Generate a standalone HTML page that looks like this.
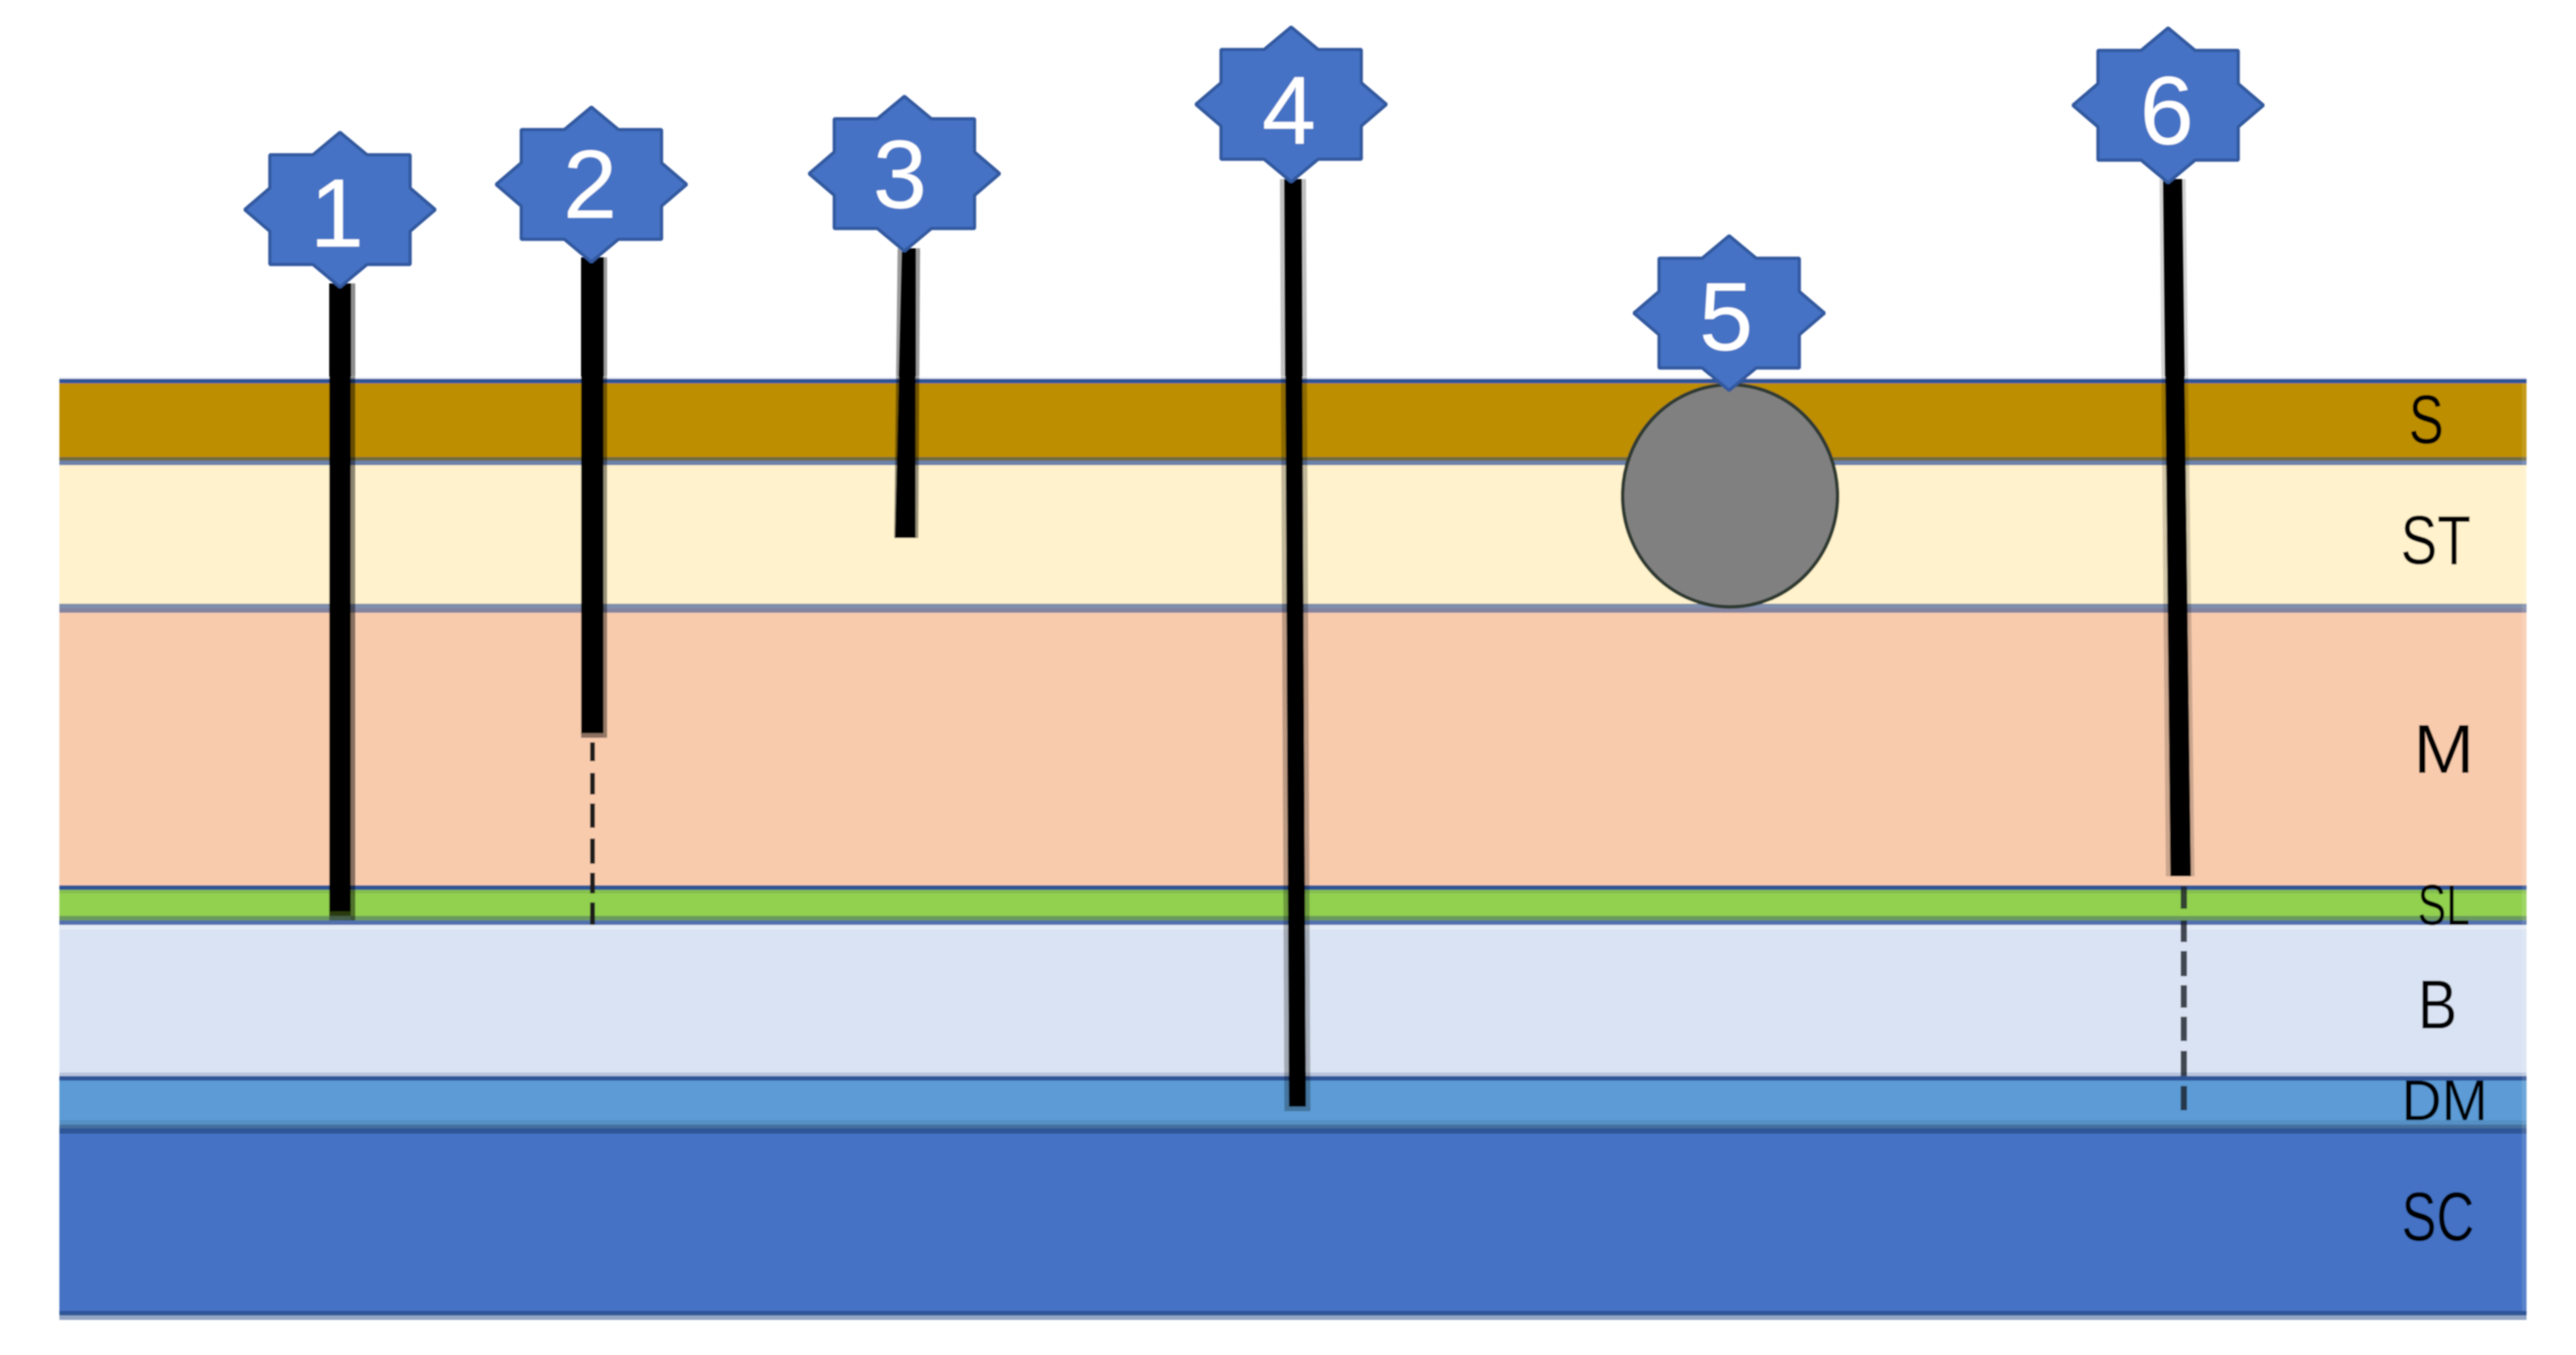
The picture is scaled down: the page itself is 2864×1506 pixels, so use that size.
<!DOCTYPE html>
<html>
<head>
<meta charset="utf-8">
<style>
html,body{margin:0;padding:0;background:#fff;}
svg{display:block;}
text{font-family:"Liberation Sans",Arial,sans-serif;}
</style>
</head>
<body>
<svg xmlns="http://www.w3.org/2000/svg" width="2864" height="1506" viewBox="0 0 2864 1506">
<defs>
<filter id="b" x="-2%" y="-2%" width="104%" height="104%"><feGaussianBlur stdDeviation="0.9"/></filter>
<polygon id="star" points="0,-86 30,-61 78,-61 78,-24 106,0 78,24 78,61 30,61 0,86 -30,61 -78,61 -78,24 -106,0 -78,-24 -78,-61 -30,-61" fill="#4472c4" stroke="#33599f" stroke-width="3.5" stroke-linejoin="bevel"/>
</defs>
<rect width="2864" height="1506" fill="#fff"/>
<g filter="url(#b)">
<!-- bands -->
<rect x="66" y="419" width="2743" height="2" fill="#eef1f8"/>
<rect x="66" y="421" width="2743" height="5" fill="#2f5597"/>
<rect x="66" y="426" width="2743" height="82" fill="#bd8e00"/>
<rect x="66" y="508" width="2743" height="4" fill="#6f6a40"/>
<rect x="66" y="512" width="2743" height="5" fill="#6b82ab"/>
<rect x="66" y="517" width="2743" height="154" fill="#fff2cc"/>
<rect x="66" y="671" width="2743" height="5" fill="#7f8eaa"/>
<rect x="66" y="676" width="2743" height="5" fill="#83839f"/>
<rect x="66" y="681" width="2743" height="303" fill="#f8cbad"/>
<rect x="66" y="984" width="2743" height="5" fill="#2f5597"/>
<rect x="66" y="989" width="2743" height="4" fill="#86bf4e"/>
<rect x="66" y="993" width="2743" height="25" fill="#92d050"/>
<rect x="66" y="1018" width="2743" height="5" fill="#6b9a5d"/>
<rect x="66" y="1023" width="2743" height="5" fill="#5270ae"/>
<rect x="66" y="1028" width="2743" height="5" fill="#e6ecf7"/>
<rect x="66" y="1033" width="2743" height="159" fill="#dae3f3"/>
<rect x="66" y="1192" width="2743" height="4" fill="#b8c4de"/>
<rect x="66" y="1196" width="2743" height="5" fill="#2f5597"/>
<rect x="66" y="1201" width="2743" height="44" fill="#5b9bd5"/>
<rect x="66" y="1245" width="2743" height="5" fill="#5490c5"/>
<rect x="66" y="1250" width="2743" height="4" fill="#44709c"/>
<rect x="66" y="1254" width="2743" height="6" fill="#2f5597"/>
<rect x="66" y="1260" width="2743" height="197" fill="#4472c4"/>
<rect x="66" y="1457" width="2743" height="5" fill="#2f5597"/>
<rect x="66" y="1462" width="2743" height="5" fill="#92a5c4"/>
<rect x="2804" y="426" width="5" height="1031" fill="#fff" opacity="0.12"/>

<!-- layer labels -->
<g fill="#000">
<text x="2678" y="493" font-size="77" textLength="39" lengthAdjust="spacingAndGlyphs">S</text>
<text x="2669" y="627" font-size="77" textLength="78" lengthAdjust="spacingAndGlyphs">ST</text>
<text x="2683" y="859" font-size="77" textLength="68" lengthAdjust="spacingAndGlyphs">M</text>
<text x="2688" y="1028" font-size="64" textLength="58" lengthAdjust="spacingAndGlyphs">SL</text>
<text x="2688" y="1143" font-size="77" textLength="44" lengthAdjust="spacingAndGlyphs">B</text>
<text x="2670" y="1245" font-size="64" textLength="96" lengthAdjust="spacingAndGlyphs">DM</text>
<text x="2670" y="1379" font-size="77" textLength="81" lengthAdjust="spacingAndGlyphs">SC</text>
</g>

<!-- pin 1 -->
<rect x="390" y="315" width="5" height="708" fill="#000" opacity="0.45"/>
<rect x="366" y="315" width="24" height="698" fill="#000"/>
<rect x="366" y="1013" width="24" height="5" fill="#2a3a10"/>
<rect x="366" y="1018" width="24" height="5" fill="#445f48"/>

<!-- pin 2 -->
<rect x="671" y="286" width="4" height="534" fill="#000" opacity="0.4"/>
<rect x="646" y="286" width="25" height="529" fill="#000"/>
<rect x="646" y="815" width="25" height="5" fill="#8c7060"/>
<g fill="#1c1c1c">
<rect x="656" y="825" width="5.5" height="21"/>
<rect x="656" y="859" width="5.5" height="24"/>
<rect x="656" y="893" width="5.5" height="27"/>
<rect x="656" y="932" width="5.5" height="28"/>
<rect x="656" y="970" width="5.5" height="23"/>
<rect x="656" y="1003" width="5.5" height="25"/>
</g>

<!-- pin 3 -->
<polygon points="998,276 1023,276 1021,598 994,598" fill="#000" opacity="0.4"/>
<polygon points="1003,276 1018,276 1018,598 995,598" fill="#000"/>

<!-- pin 4 -->
<polygon points="1423,199 1452,199 1457,1235 1428,1235" fill="#000" opacity="0.25"/>
<polygon points="1428,199 1447,199 1452,1230 1433,1230" fill="#000"/>

<!-- pin 6 -->
<polygon points="2401,199 2430,199 2440,974 2408,974" fill="#000" opacity="0.18"/>
<polygon points="2405,199 2426,199 2436,974 2413,974" fill="#000"/>
<g fill="#1a1f28" opacity="0.8">
<rect x="2424.5" y="985" width="7" height="25"/>
<rect x="2424.5" y="1023" width="7" height="24"/>
<rect x="2424.5" y="1057" width="7" height="28"/>
<rect x="2424.5" y="1095" width="7" height="25"/>
<rect x="2424.5" y="1130" width="7" height="27"/>
<rect x="2424.5" y="1168" width="7" height="28"/>
<rect x="2424.5" y="1207" width="7" height="27"/>
</g>

<!-- circle -->
<ellipse cx="1923.5" cy="551" rx="119.5" ry="123.5" fill="#808080" stroke="#2f3a30" stroke-width="4"/>

<!-- stars -->
<use href="#star" x="378" y="233"/>
<use href="#star" x="657.5" y="205"/>
<use href="#star" x="1005.5" y="193"/>
<use href="#star" x="1435.5" y="116"/>
<use href="#star" x="1922.5" y="348"/>
<use href="#star" x="2410.5" y="117"/>

<!-- star numbers -->
<g fill="#fff" font-size="108" text-anchor="middle">
<text x="374.5" y="274">1</text>
<text x="656" y="242">2</text>
<text x="1000.5" y="231">3</text>
<text x="1433" y="160">4</text>
<text x="1919" y="389">5</text>
<text x="2409" y="160">6</text>
</g>
</g>
</svg>
</body>
</html>
